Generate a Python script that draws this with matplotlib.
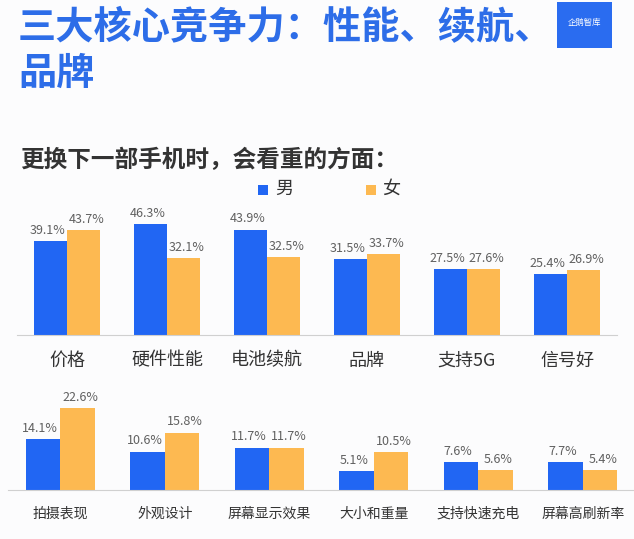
import numpy as np
import matplotlib.pyplot as plt
from matplotlib.patches import Rectangle

plt.rcParams['font.family'] = ['Noto Sans CJK SC', 'DejaVu Sans']

# 数据
top_cats = ['价格', '硬件性能', '电池续航', '品牌', '支持5G', '信号好']
top_male = [39.1, 46.3, 43.9, 31.5, 27.5, 25.4]
top_female = [43.7, 32.1, 32.5, 33.7, 27.6, 26.9]

bottom_cats = ['拍摄表现', '外观设计', '屏幕显示效果', '大小和重量', '支持快速充电', '屏幕高刷新率']
bottom_male = [14.1, 10.6, 11.7, 5.1, 7.6, 7.7]
bottom_female = [22.6, 15.8, 11.7, 10.5, 5.6, 5.4]

BLUE = '#2166F3'
ORANGE = '#FDB951'
TITLE_BLUE = '#2D6DE8'
W, H = 634, 539

fig = plt.figure(figsize=(W / 100, H / 100), dpi=100)
fig.patch.set_facecolor('#FCFCFD')


def px(x0, y0, x1, y1):
    # 像素坐标 -> figure 坐标 [left, bottom, width, height]
    return [x0 / W, 1 - y1 / H, (x1 - x0) / W, (y1 - y0) / H]


def draw(ax, cats, male, female, ymax, tick_size, val_size):
    x = np.arange(len(cats))
    bw = 0.33
    ax.bar(x - bw / 2, male, bw, color=BLUE)
    ax.bar(x + bw / 2, female, bw, color=ORANGE)
    for xi, m, f in zip(x, male, female):
        ax.annotate(f'{m}%', (xi - bw / 2, m), xytext=(-2, 3), textcoords='offset points',
                    ha='center', va='bottom', fontsize=val_size, color='#606060')
        ax.annotate(f'{f}%', (xi + bw / 2, f), xytext=(2, 3), textcoords='offset points',
                    ha='center', va='bottom', fontsize=val_size, color='#606060')
    ax.set_xlim(-0.5, len(cats) - 0.5)
    ax.set_ylim(0, ymax)
    ax.set_xticks(x)
    ax.set_xticklabels(cats, fontsize=tick_size, color='#333333')
    ax.tick_params(axis='x', length=0, pad=12)
    ax.set_yticks([])
    for s in ['top', 'right', 'left']:
        ax.spines[s].set_visible(False)
    ax.spines['bottom'].set_color('#D0D0D0')
    ax.set_facecolor('none')


# 上图: 基线 y=335, 2.4 px/%
ax1 = fig.add_axes(px(17, 335 - 2.4 * 50, 617, 335))
draw(ax1, top_cats, top_male, top_female, 50, 13, 9)

# 下图: 基线 y=490, 3.63 px/%
ax2 = fig.add_axes(px(8, 490 - 3.63 * 25, 635, 490))
draw(ax2, bottom_cats, bottom_male, bottom_female, 25, 10, 9)

# 标题
fig.text(18 / W, 1 - 28 / H, '三大核心竞争力：性能、续航、', fontsize=27.5, fontweight='bold',
         color=TITLE_BLUE, va='center', ha='left')
fig.text(18 / W, 1 - 73 / H, '品牌', fontsize=27.5, fontweight='bold',
         color=TITLE_BLUE, va='center', ha='left')

# logo
fig.patches.append(Rectangle((557 / W, 1 - 48 / H), 55 / W, 46 / H, transform=fig.transFigure,
                             facecolor='#2A6CF0', edgecolor='none'))
fig.text(584 / W, 1 - 22 / H, '企鹅智库', fontsize=6, color='white', ha='center', va='center')

# 副标题
fig.text(20 / W, 1 - 160 / H, '更换下一部手机时，会看重的方面：', fontsize=17, fontweight='bold',
         color='#333333', va='center', ha='left')

# 图例
fig.patches.append(Rectangle((258 / W, 1 - 195 / H), 10 / W, 10 / H, transform=fig.transFigure,
                             facecolor=BLUE, edgecolor='none'))
fig.text(275 / W, 1 - 189 / H, '男', fontsize=13, color='#333333', va='center')
fig.patches.append(Rectangle((366 / W, 1 - 195 / H), 10 / W, 10 / H, transform=fig.transFigure,
                             facecolor=ORANGE, edgecolor='none'))
fig.text(382 / W, 1 - 189 / H, '女', fontsize=13, color='#333333', va='center')

fig.savefig('out.png', dpi=100, facecolor=fig.get_facecolor())
